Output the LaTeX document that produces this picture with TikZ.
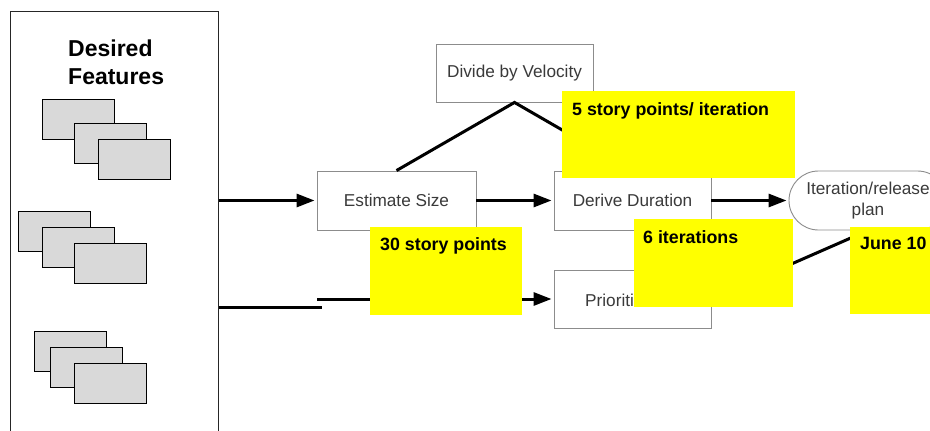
\documentclass[tikz,border=0pt]{standalone}
\usepackage{fontspec}
\setmainfont{Liberation Sans}
\usetikzlibrary{arrows.meta,shapes.misc,calc}
\definecolor{cardgray}{HTML}{D9D9D9}
\definecolor{procgray}{HTML}{8C8C8C}
\definecolor{proctext}{HTML}{3A3A3A}
\definecolor{noteyellow}{HTML}{FFFF00}
\begin{document}
\begin{tikzpicture}[x=1pt,y=-1pt,
  card/.style={draw=black,line width=1.2pt,fill=cardgray,minimum width=72pt,minimum height=40pt,inner sep=0pt,anchor=north west},
  proc/.style={draw=procgray,line width=0.9pt,text=proctext,font=\fontsize{17.2}{20}\selectfont,inner sep=0pt,minimum height=59pt},
  note/.style={fill=noteyellow,inner sep=0pt,anchor=north west},
  notetext/.style={font=\bfseries\fontsize{17.8}{20}\selectfont,anchor=north west,inner sep=0pt},
  flow/.style={line width=3pt,-{Triangle[length=18pt,width=13pt]},shorten >=2pt},
  link/.style={line width=3pt}
]
\clip (0,0) rectangle (930,431);
\fill[white] (0,0) rectangle (930,431);

% left panel with the feature cards
\node[draw=black!85,line width=1pt,minimum width=208pt,minimum height=434pt,inner sep=0pt] (features) at (114,228) {};
\node[anchor=north west,inner sep=0pt,align=left,font=\bfseries\fontsize{23}{28}\selectfont] (title) at (68,40) {Desired\\Features};

\node[card] (c1a) at (42,99) {};
\node[card] (c1b) at (74,123) {};
\node[card] (c1c) at (98,139) {};
\node[card] (c2a) at (18,211) {};
\node[card] (c2b) at (42,227) {};
\node[card] (c2c) at (74,243) {};
\node[card] (c3a) at (34,331) {};
\node[card] (c3b) at (50,347) {};
\node[card] (c3c) at (74,363) {};

% process steps
\node[proc,minimum width=159pt] (est) at (396.5,200.5) {Estimate Size};
\node[proc,minimum width=157pt] (der) at (632.5,200.5) {Derive Duration};
\node[proc,minimum width=157pt,minimum height=58pt] (pri) at (632.5,299) {};
\node[anchor=west,inner sep=0pt,text=proctext,font=\fontsize{17.2}{20}\selectfont] (pritext) at (585,300) {Prioritize};
\node[proc,minimum width=157pt,minimum height=58pt] (div) at (514.5,73) {Divide by Velocity};
\node[proc,rounded rectangle,minimum width=158pt,align=center,font=\fontsize{17.2}{21}\selectfont] (plan) at (868,200.5) {Iteration/release\\plan};

% connectors
\draw[link] (est.north) -- (div.south) -- (der.north);
\draw[flow] (features.east |- est.west) -- (est.west);
\draw[flow] (est.east) -- (der.west);
\draw[flow] (der.east) -- (plan.west);
\coordinate (split) at (322,307);
\draw[link] (features.east |- split) -- (split);
\coordinate (prein) at (317,299);
\draw[flow] (prein) -- (pri.west);
\draw[link] (pri.east) -- (plan.south);

% sticky notes
\node[note,minimum width=233pt,minimum height=87pt] (n5) at (562,91) {};
\node[notetext] (t5) at ($(n5.north west)+(10,11)$) {5 story points/ iteration};
\node[note,minimum width=152pt,minimum height=88pt] (n30) at (370,227) {};
\node[notetext] (t30) at ($(n30.north west)+(10,10)$) {30 story points};
\node[note,minimum width=159pt,minimum height=88pt] (n6) at (634,219) {};
\node[notetext] (t6) at ($(n6.north west)+(9,11)$) {6 iterations};
\node[note,minimum width=100pt,minimum height=87pt] (nj) at (850,227) {};
\node[notetext] (tj) at ($(nj.north west)+(10,10)$) {June 10};
\end{tikzpicture}
\end{document}
